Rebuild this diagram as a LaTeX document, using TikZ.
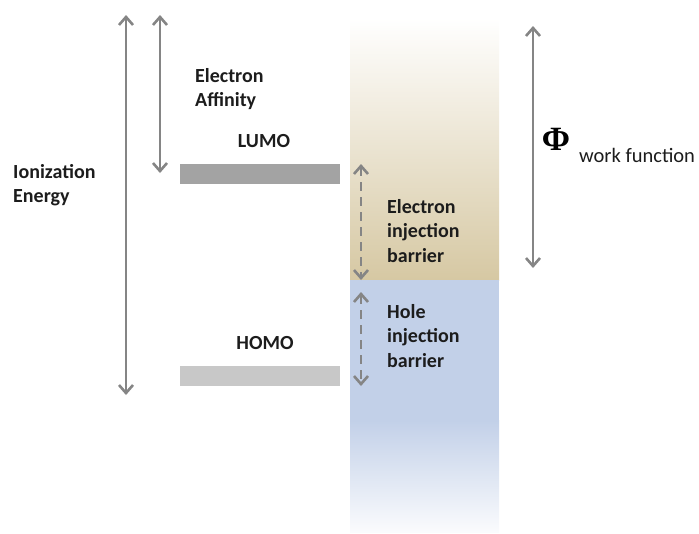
\documentclass[tikz,border=0pt]{standalone}
\usepackage{fontspec}
\setmainfont{Carlito}
\newfontfamily\phifont{Liberation Serif}
\usetikzlibrary{arrows.meta}
\definecolor{arrowgray}{HTML}{858585}
\definecolor{lumogray}{HTML}{A3A3A3}
\definecolor{homogray}{HTML}{C8C8C8}
\definecolor{metaltan}{HTML}{D6C8A3}
\definecolor{metalblue}{HTML}{C2D0E8}
\definecolor{textdark}{HTML}{1C1C1C}
\tikzset{
  lbl/.style={inner sep=0pt, text=textdark, align=left,
    font=\fontsize{20}{24.5}\selectfont\bfseries},
  level/.style={inner sep=0pt, minimum width=160pt, minimum height=20pt},
  gap/.style={draw=arrowgray, line width=2.6pt,
    {Straight Barb[length=8pt,width=14pt]}-{Straight Barb[length=8pt,width=14pt]}},
  barrier/.style={gap, line width=2.6pt, dash pattern=on 9pt off 6pt}
}
\begin{document}
\begin{tikzpicture}[x=1pt,y=-1pt]
          \useasboundingbox (0,0) rectangle (699,533);
          % metal column
          \shade [top color=white, bottom color=metaltan] (350,18) rectangle (499,280);
          \fill [metalblue] (350,280) rectangle (499,420);
          \shade [top color=metalblue, bottom color=metalblue!8] (350,420) rectangle (499,532);
          % levels
          \node [level, fill=lumogray] (lumobar) at (260,173.5) {};
          \node [level, fill=homogray] (homobar) at (260,376) {};
          \node [lbl] (lumo) at (264,141) {LUMO};
          \node [lbl] (homo) at (265,343) {HOMO};
          % arrow ends
          \coordinate (ieTop) at (126,15);
          \coordinate (ieBot) at (126,395);
          \coordinate (eaTop) at (160,15);
          \coordinate (eaBot) at (160,173);
          \coordinate (wfTop) at (533,26);
          \coordinate (wfBot) at (533,268);
          \coordinate (ebTop) at (361,164);
          \coordinate (ebBot) at (361,280);
          \coordinate (hbTop) at (361,292);
          \coordinate (hbBot) at (361,386);
          \draw [gap] (ieTop) -- (ieBot);
          \draw [gap] (eaTop) -- (eaBot);
          \draw [gap] (wfTop) -- (wfBot);
          \draw [barrier] (ebTop) -- (ebBot);
          \draw [barrier] (hbTop) -- (hbBot);
          % labels
          \node [lbl, anchor=west] (affinity) at (195,89) {Electron\\Affinity};
          \node [lbl, anchor=west] (ionization) at (13,185) {Ionization\\Energy};
          \node [lbl, anchor=west] (einject) at (387,231) {Electron\\injection\\barrier};
          \node [lbl, anchor=west] (hinject) at (387,336) {Hole\\injection\\barrier};
          \node [inner sep=0pt, text=black, font=\fontsize{34}{34}\selectfont\phifont\bfseries] (phi) at (556,139) {Φ};
          \node [inner sep=0pt, anchor=west, text=textdark, font=\fontsize{20.5}{22}\selectfont] (wf) at (579,155) {work function};
        \end{tikzpicture}
\end{document}
